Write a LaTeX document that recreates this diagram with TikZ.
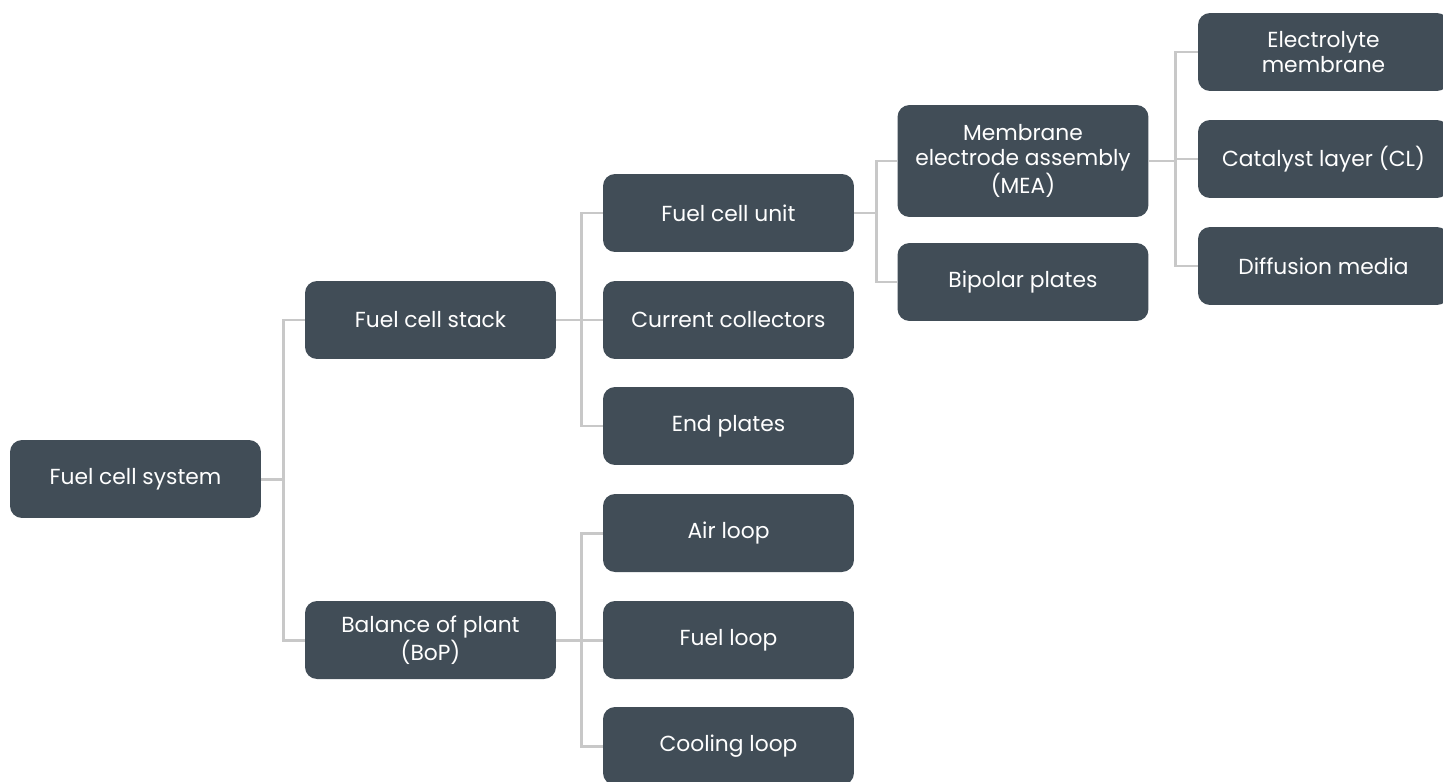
\documentclass[tikz,border=0pt]{standalone}
\usepackage{fontspec}
\setmainfont{Poppins}
\definecolor{boxgrey}{HTML}{414D57}
\definecolor{linegrey}{HTML}{C8C8C8}
\begin{document}
\begin{tikzpicture}[x=0.02cm,y=-0.02cm,
		part/.style={fill=boxgrey, text=white, rounded corners=0.24cm, minimum width=5.02cm, minimum height=1.56cm, align=center, font=\fontsize{12.4}{14.4}\selectfont, inner sep=0pt},
		link/.style={draw=linegrey, line width=1.7pt}]
	\useasboundingbox (0,0) rectangle (1443,781);
	% level 0 and 1
	\node[part] (sys) at (135.5,479) {Fuel cell system};
	\node[part] (stack) at (430.5,320) {Fuel cell stack};
	\node[part] (bop) at (430.5,640) {Balance of plant\\(BoP)};
	% level 2
	\node[part] (unit) at (728.5,213) {Fuel cell unit};
	\node[part] (coll) at (728.5,320) {Current collectors};
	\node[part] (endp) at (728.5,426) {End plates};
	\node[part] (air) at (728.5,533) {Air loop};
	\node[part] (fuel) at (728.5,640) {Fuel loop};
	\node[part] (cool) at (728.5,746) {Cooling loop};
	% level 3
	\node[part, minimum height=2.24cm] (mea) at (1023,161) {Membrane\\electrode assembly\\(MEA)};
	\node[part] (bip) at (1023,282) {Bipolar plates};
	% level 4
	\node[part] (elec) at (1323.5,52) {Electrolyte\\membrane};
	\node[part] (cat) at (1323.5,159) {Catalyst layer (CL)};
	\node[part] (diff) at (1323.5,266) {Diffusion media};
	% connectors
	\draw[link] (sys.east) -- ++(22,0) coordinate (j0);
	\foreach \t in {stack,bop} {
			\draw[link] (j0) |- (\t.west);
		}
	\draw[link] (stack.east) -- ++(25,0) coordinate (j1);
	\foreach \t in {unit,coll,endp} {
			\draw[link] (j1) |- (\t.west);
		}
	\draw[link] (bop.east) -- ++(25,0) coordinate (j2);
	\foreach \t in {air,fuel,cool} {
			\draw[link] (j2) |- (\t.west);
		}
	\draw[link] (unit.east) -- ++(22,0) coordinate (j3);
	\foreach \t in {mea,bip} {
			\draw[link] (j3) |- (\t.west);
		}
	\draw[link] (mea.east) -- ++(27,0) coordinate (j4);
	\foreach \t in {elec,cat,diff} {
			\draw[link] (j4) |- (\t.west);
		}
\end{tikzpicture}
\end{document}
